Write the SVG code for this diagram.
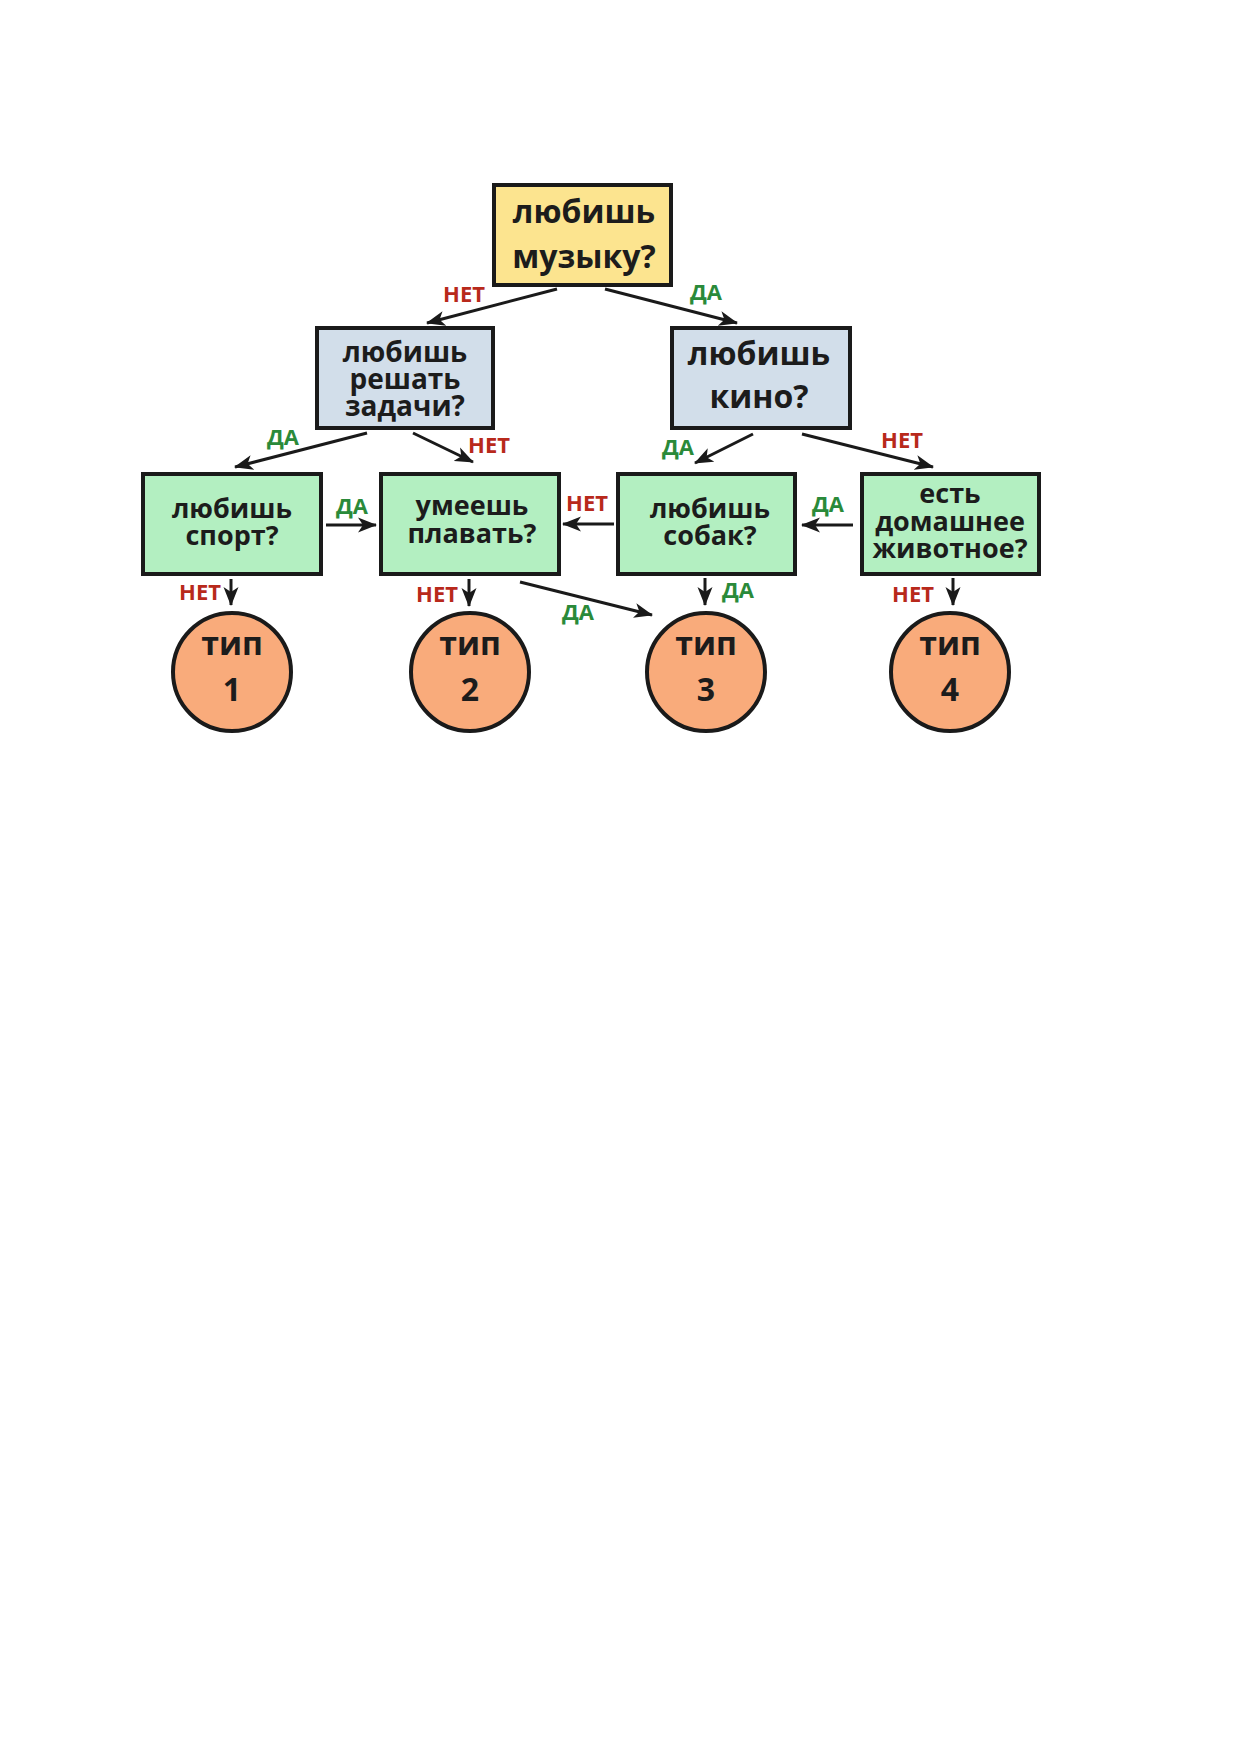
<svg xmlns="http://www.w3.org/2000/svg" width="1241" height="1754" viewBox="0 0 1241 1754">
<style>
  .box { stroke: #1a1a1a; stroke-width: 4; }
  .q { fill: #1c1c1c; font-family: "Open Sans", "Noto Sans", "DejaVu Sans", sans-serif; font-weight: 700; text-anchor: middle; }
  .big { font-size: 32px; }
  .mid { font-size: 28px; }
  .sm { font-size: 27px; }
  .lbl { font-family: "Open Sans", "Noto Sans", "DejaVu Sans", sans-serif; font-weight: 700; font-size: 22px; }
  .no { fill: #b8291b; }
  .yes { fill: #2a8a3a; }
  .edge { stroke: #1a1a1a; stroke-width: 3; fill: none; marker-end: url(#ah); }
</style>
<defs>
  <marker id="ah" markerUnits="userSpaceOnUse" markerWidth="20" markerHeight="16" refX="18" refY="8" orient="auto">
    <path d="M0,0.5 L19,8 L0,15.5 L5,8 z" fill="#1a1a1a"/>
  </marker>
</defs>
<rect width="1241" height="1754" fill="#ffffff"/>

<g id="connectors">
  <line class="edge" x1="557" y1="289" x2="427" y2="323"/>
  <line class="edge" x1="605" y1="289" x2="737" y2="323"/>
  <line class="edge" x1="367" y1="433" x2="235" y2="467"/>
  <line class="edge" x1="413" y1="433" x2="473" y2="462"/>
  <line class="edge" x1="753" y1="434" x2="695" y2="463"/>
  <line class="edge" x1="802" y1="434" x2="933" y2="467"/>
  <line class="edge" x1="326" y1="525" x2="376" y2="525"/>
  <line class="edge" x1="614" y1="524" x2="563" y2="524"/>
  <line class="edge" x1="853" y1="525" x2="802" y2="525"/>
  <line class="edge" x1="231" y1="579" x2="231" y2="605"/>
  <line class="edge" x1="469" y1="579" x2="469" y2="606"/>
  <line class="edge" x1="520" y1="582" x2="652" y2="615"/>
  <line class="edge" x1="705" y1="578" x2="705" y2="605"/>
  <line class="edge" x1="953" y1="578" x2="953" y2="605"/>

  <text class="lbl no" x="464" y="302" text-anchor="middle">НЕТ</text>
  <text class="lbl yes" x="706" y="300" text-anchor="middle">ДА</text>
  <text class="lbl yes" x="283" y="445" text-anchor="middle">ДА</text>
  <text class="lbl no" x="489" y="453" text-anchor="middle">НЕТ</text>
  <text class="lbl yes" x="678" y="455" text-anchor="middle">ДА</text>
  <text class="lbl no" x="902" y="448" text-anchor="middle">НЕТ</text>
  <text class="lbl yes" x="352" y="514" text-anchor="middle">ДА</text>
  <text class="lbl no" x="587" y="511" text-anchor="middle">НЕТ</text>
  <text class="lbl yes" x="828" y="512" text-anchor="middle">ДА</text>
  <text class="lbl no" x="221" y="600" text-anchor="end">НЕТ</text>
  <text class="lbl no" x="458" y="602" text-anchor="end">НЕТ</text>
  <text class="lbl yes" x="578" y="620" text-anchor="middle">ДА</text>
  <text class="lbl yes" x="722" y="598" text-anchor="start">ДА</text>
  <text class="lbl no" x="934" y="602" text-anchor="end">НЕТ</text>
</g>

<g id="music">
  <rect class="box" x="494" y="185" width="177" height="100" fill="#fce48f"/>
  <text class="q big" x="584" y="223">любишь</text>
  <text class="q big" x="584" y="268">музыку?</text>
</g>

<g id="tasks">
  <rect class="box" x="317" y="328" width="176" height="100" fill="#d2deea"/>
  <text class="q mid" x="405" y="362">любишь</text>
  <text class="q mid" x="405" y="389">решать</text>
  <text class="q mid" x="405" y="416">задачи?</text>
</g>

<g id="cinema">
  <rect class="box" x="672" y="328" width="178" height="100" fill="#d2deea"/>
  <text class="q big" x="759" y="365">любишь</text>
  <text class="q big" x="759" y="408">кино?</text>
</g>

<g id="sport">
  <rect class="box" x="143" y="474" width="178" height="100" fill="#b3efc1"/>
  <text class="q sm" x="232" y="518">любишь</text>
  <text class="q sm" x="232" y="545">спорт?</text>
</g>

<g id="swim">
  <rect class="box" x="381" y="474" width="178" height="100" fill="#b3efc1"/>
  <text class="q sm" x="472" y="515">умеешь</text>
  <text class="q sm" x="472" y="543">плавать?</text>
</g>

<g id="dogs">
  <rect class="box" x="618" y="474" width="177" height="100" fill="#b3efc1"/>
  <text class="q sm" x="710" y="518">любишь</text>
  <text class="q sm" x="710" y="545">собак?</text>
</g>

<g id="pet">
  <rect class="box" x="862" y="474" width="177" height="100" fill="#b3efc1"/>
  <text class="q sm" x="950" y="503">есть</text>
  <text class="q sm" x="950" y="531">домашнее</text>
  <text class="q sm" x="950" y="558">животное?</text>
</g>

<g id="type1">
  <circle class="box" cx="232" cy="672" r="59" fill="#f9ab7b"/>
  <text class="q big" x="232" y="655">тип</text>
  <text class="q big" x="232" y="701">1</text>
</g>
<g id="type2">
  <circle class="box" cx="470" cy="672" r="59" fill="#f9ab7b"/>
  <text class="q big" x="470" y="655">тип</text>
  <text class="q big" x="470" y="701">2</text>
</g>
<g id="type3">
  <circle class="box" cx="706" cy="672" r="59" fill="#f9ab7b"/>
  <text class="q big" x="706" y="655">тип</text>
  <text class="q big" x="706" y="701">3</text>
</g>
<g id="type4">
  <circle class="box" cx="950" cy="672" r="59" fill="#f9ab7b"/>
  <text class="q big" x="950" y="655">тип</text>
  <text class="q big" x="950" y="701">4</text>
</g>
</svg>
